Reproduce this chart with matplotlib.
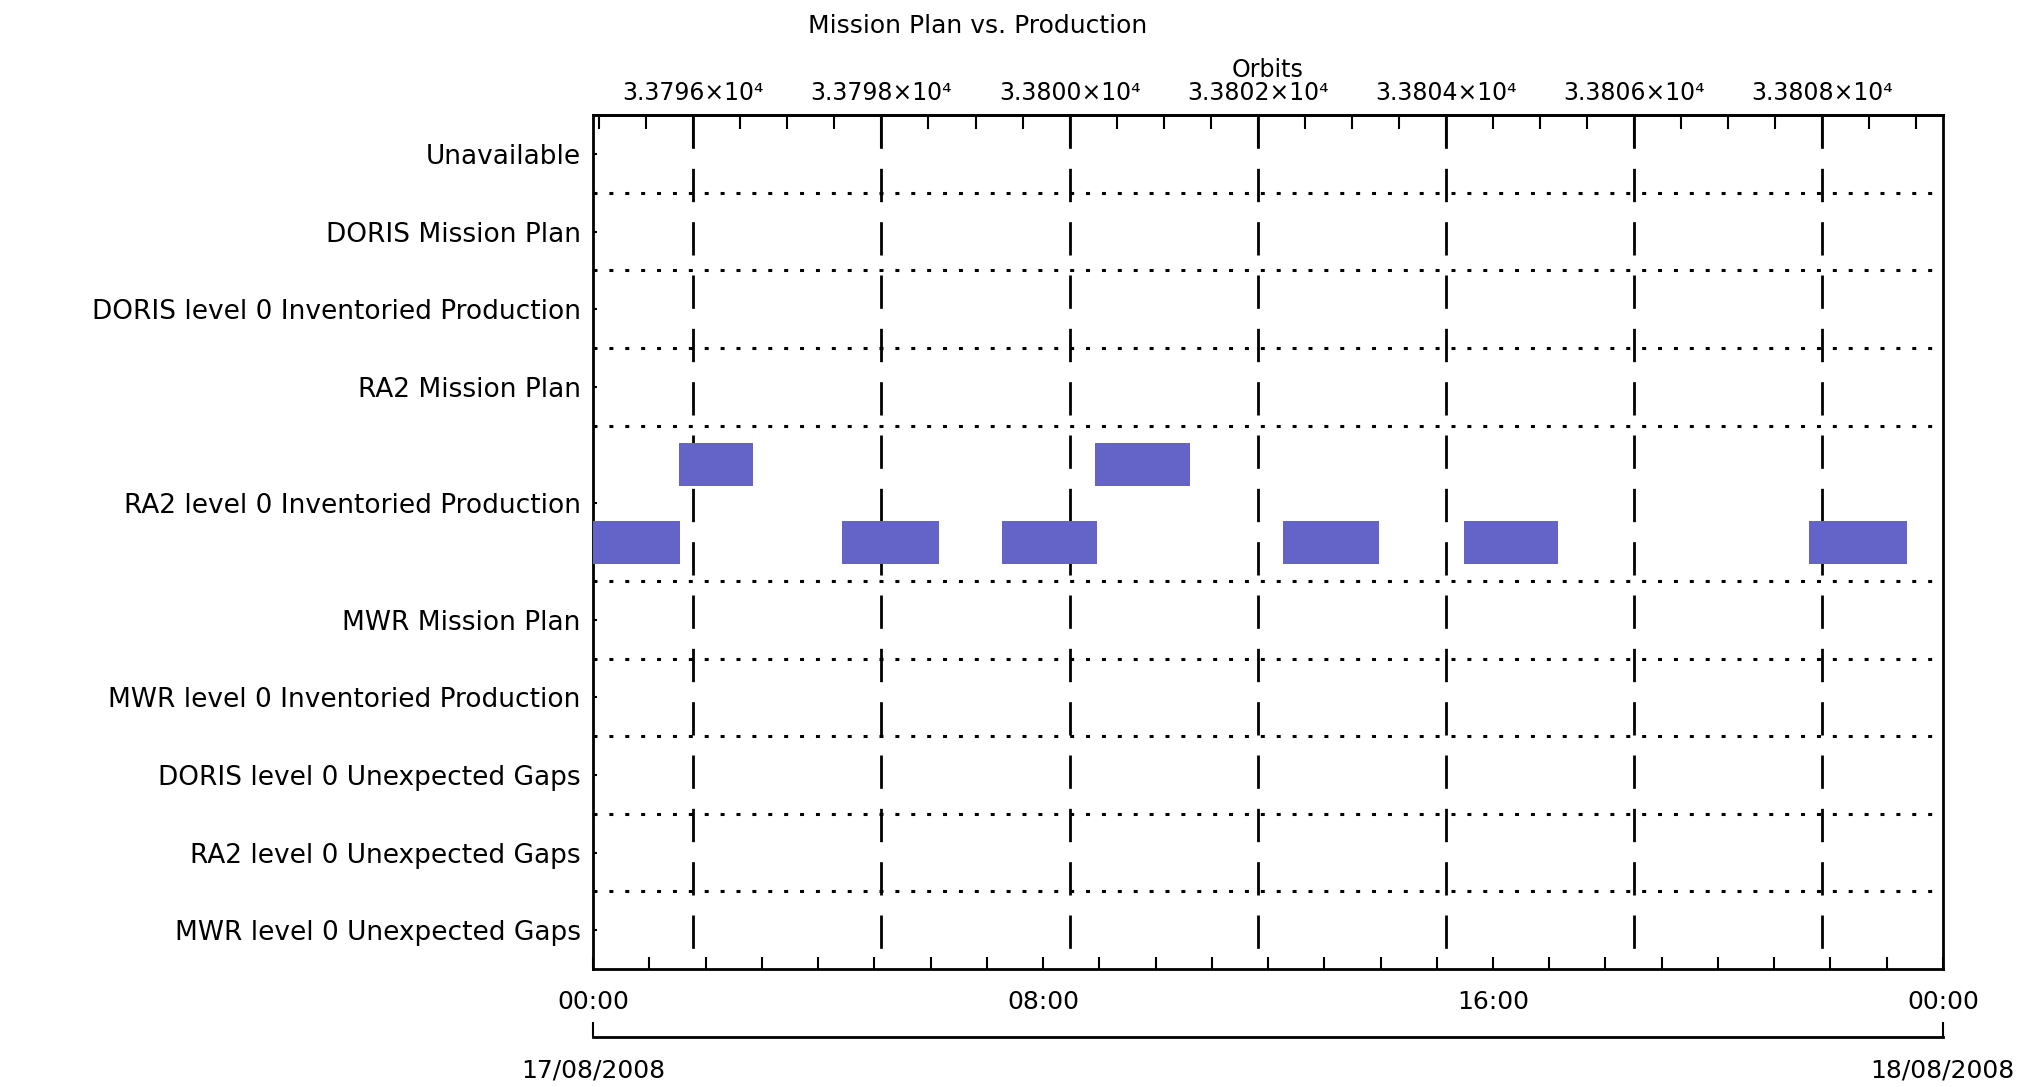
import datetime as dt

import numpy as np
import matplotlib
matplotlib.use("Agg")
import matplotlib.pyplot as plt
import matplotlib.dates as mdates
from matplotlib.ticker import FixedLocator, FuncFormatter, NullLocator

# --- data -----------------------------------------------------------------
DAY_START = "2008-08-17"
DAY_END = "2008-08-18"

rows = [
    "Unavailable",
    "DORIS Mission Plan",
    "DORIS level 0 Inventoried Production",
    "RA2 Mission Plan",
    "RA2 level 0 Inventoried Production",
    "MWR Mission Plan",
    "MWR level 0 Inventoried Production",
    "DORIS level 0 Unexpected Gaps",
    "RA2 level 0 Unexpected Gaps",
    "MWR level 0 Unexpected Gaps",
]
# number of lanes each row takes (RA2 production has overlapping items)
row_lanes = [1, 1, 1, 1, 2, 1, 1, 1, 1, 1]

# RA2 level 0 inventoried production, upper lane
ra2_upper_start = ["01:31", "08:55"]
ra2_upper_end = ["02:50", "10:37"]
# RA2 level 0 inventoried production, lower lane
ra2_lower_start = ["00:00", "04:25", "07:16", "12:16", "15:29", "21:37"]
ra2_lower_end = ["01:33", "06:09", "08:57", "13:58", "17:09", "23:22"]

# orbit numbering (Envisat)
ORBIT_REF = 33796
ORBIT_REF_TIME = "01:46:40"
ORBIT_PERIOD_MIN = 100.4

BAR_COLOR = "#6464c8"


def tnum(hhmm, day=DAY_START):
    fmt = "%Y-%m-%d %H:%M:%S" if hhmm.count(":") == 2 else "%Y-%m-%d %H:%M"
    return mdates.date2num(dt.datetime.strptime(day + " " + hhmm, fmt))


t0 = tnum("00:00")
t1 = tnum("00:00", DAY_END)
t_ref = tnum(ORBIT_REF_TIME)


def to_orbit(x):
    return ORBIT_REF + (np.asarray(x) - t_ref) * 1440.0 / ORBIT_PERIOD_MIN


def from_orbit(o):
    return t_ref + (np.asarray(o) - ORBIT_REF) * ORBIT_PERIOD_MIN / 1440.0


# --- layout ---------------------------------------------------------------
edges = np.concatenate([[0], np.cumsum(row_lanes)])
centers = (edges[:-1] + edges[1:]) / 2.0
n_lanes = edges[-1]

fig = plt.figure(figsize=(20.31, 10.87), dpi=100)
ax = fig.add_axes([0.2921, 0.1085, 0.6645, 0.7855])

ax.set_xlim(t0, t1)
ax.set_ylim(n_lanes, 0)

# bars
ra2_top = edges[rows.index("RA2 level 0 Inventoried Production")]
for s, e in zip(ra2_upper_start, ra2_upper_end):
    ax.barh(ra2_top + 0.5, tnum(e) - tnum(s), left=tnum(s), height=0.556,
            color=BAR_COLOR, edgecolor="none", zorder=3)
for s, e in zip(ra2_lower_start, ra2_lower_end):
    ax.barh(ra2_top + 1.5, tnum(e) - tnum(s), left=tnum(s), height=0.556,
            color=BAR_COLOR, edgecolor="none", zorder=3)

# dotted row separators
ax.hlines(edges[1:-1], t0, t1, colors="black", linewidth=2.2,
          linestyles=(0, (1.3, 3.9)), zorder=2)

# orbit ticks inside the time range
o_lo, o_hi = to_orbit([t0, t1])
orbit_marks = np.arange(np.ceil(o_lo / 2) * 2, o_hi, 2)
orbit_minor = np.arange(np.ceil(o_lo * 2) / 2, o_hi, 0.5)

# dashed lines at labelled orbits
ax.vlines(from_orbit(orbit_marks), 0, n_lanes, colors="black", linewidth=2.0,
          linestyles=(0, (12, 7.2)), zorder=2)

# y axis
ax.set_yticks(centers, labels=rows)
ax.tick_params(axis="y", direction="in", length=3, width=1.5, pad=9,
               labelsize=19, right=False)

# bottom time axis
ax.xaxis.set_major_locator(mdates.HourLocator(byhour=[0, 8, 16]))
ax.xaxis.set_major_formatter(mdates.DateFormatter("%H:%M"))
ax.xaxis.set_minor_locator(mdates.HourLocator())
ax.tick_params(axis="x", which="both", direction="in", length=9, width=1.5,
               top=False, pad=15, labelsize=18)

for sp in ax.spines.values():
    sp.set_linewidth(2.0)

# top orbit axis
sec = ax.secondary_xaxis("top", functions=(to_orbit, from_orbit))
sec.xaxis.set_major_locator(FixedLocator(orbit_marks))
sec.xaxis.set_minor_locator(FixedLocator(orbit_minor))
sec.xaxis.set_major_formatter(FuncFormatter(lambda v, p: f"{v / 1e4:.4f}\u00d710\u2074"))
sec.tick_params(which="major", direction="in", length=24, width=1.5, pad=7,
                labelsize=17)
sec.tick_params(which="minor", direction="in", length=10, width=1.5)
sec.set_xlabel("Orbits", fontsize=17, labelpad=3)
sec.spines["top"].set_linewidth(2.0)

# date axis below
dax = ax.secondary_xaxis(-0.08)
dax.xaxis.set_major_locator(mdates.DayLocator())
dax.xaxis.set_major_formatter(mdates.DateFormatter("%d/%m/%Y"))
dax.xaxis.set_minor_locator(NullLocator())
dax.tick_params(direction="in", length=11, width=1.5, pad=15, labelsize=18)
dax.spines["bottom"].set_linewidth(2.0)

fig.text(0.4815, 0.976, "Mission Plan vs. Production", ha="center",
         va="center", fontsize=18)

fig.savefig("out.png", dpi=100)
